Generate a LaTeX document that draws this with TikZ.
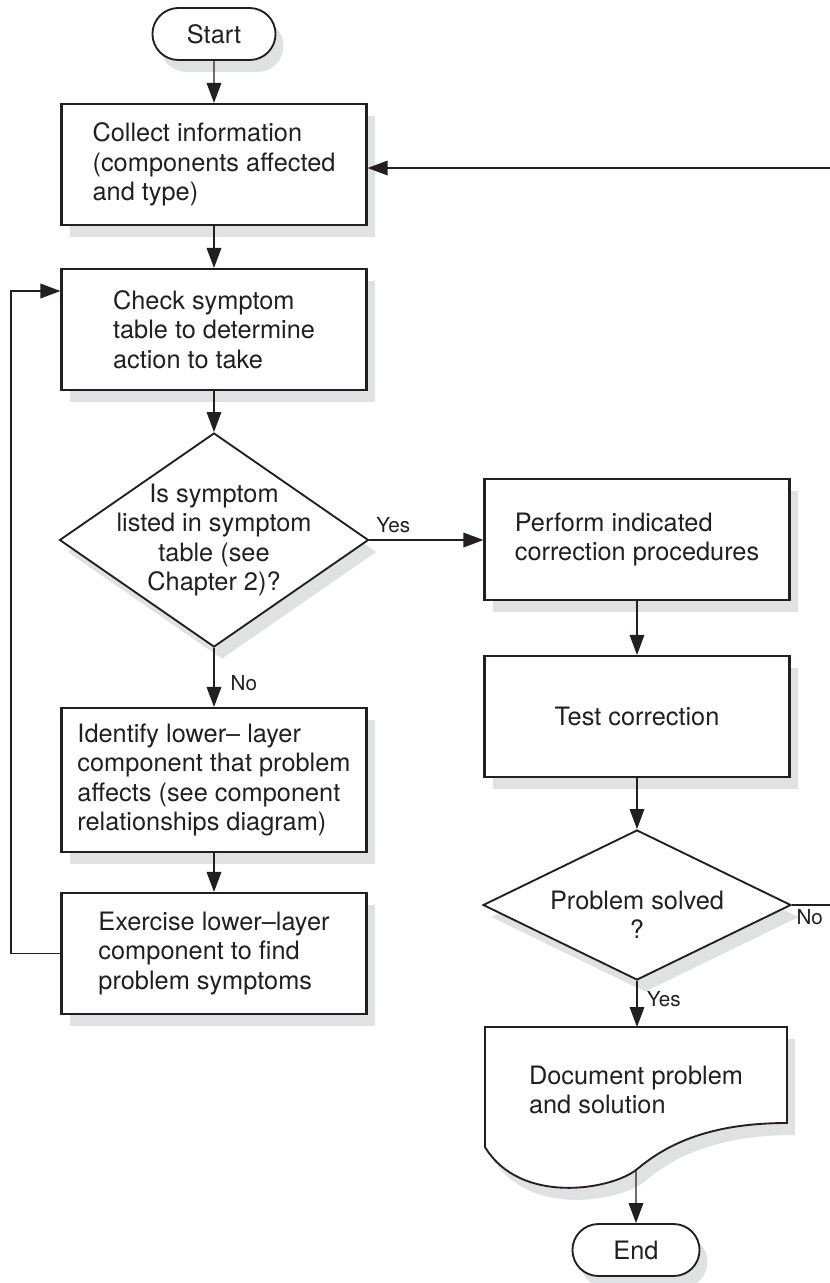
\documentclass[tikz,border=0pt]{standalone}
\usepackage{fontspec}
\setmainfont{TeX Gyre Heros}
\usetikzlibrary{arrows.meta,shapes.geometric,shapes.misc,shadows}
\definecolor{shadowgray}{RGB}{224,225,227}
\definecolor{inkgray}{RGB}{35,31,32}

\begin{document}
\begin{tikzpicture}[x=0.75pt,y=-0.75pt,
		>={Triangle[length=15pt,width=11pt]},
		every node/.style={text=inkgray},
		myshadow/.style={drop shadow={shadow xshift=6pt,shadow yshift=-9pt,fill=shadowgray,opacity=1}},
		procbox/.style={rectangle,draw=inkgray,line width=1.6pt,fill=white,myshadow,
			minimum width=228.75pt,minimum height=90.75pt,align=left,font=\fontsize{19}{22}\selectfont},
		termbox/.style={rounded rectangle,draw=inkgray,line width=1.4pt,fill=white,myshadow,
			minimum width=99pt,minimum height=39pt,font=\fontsize{19}{22}\selectfont},
		decbox/.style={diamond,draw=inkgray,line width=1.4pt,fill=white,myshadow,inner sep=0pt},
		dectext/.style={align=center,font=\fontsize{19}{22}\selectfont},
		flow/.style={->,draw=inkgray,line width=0.9pt},
		flowlabel/.style={font=\fontsize{15.5}{18}\selectfont,inner sep=3pt}]
		
		\useasboundingbox (0,0) rectangle (830,1283);
		
		% left column
		\node[termbox] (start) at (214,34) {Start};
		\node[procbox] (box1) at (214,164.5) {Collect information\\(components affected\\and type)};
		\node[procbox] (box2) at (214,329.5) {Check symptom\\table to determine\\action to take};
		\node[decbox,minimum width=231.75pt,minimum height=160.5pt,
			label={[dectext]center:Is symptom\\listed in symptom\\table (see\\Chapter 2)?}] (dec1) at (214,540) {};
		\node[procbox,minimum height=108pt] (box5) at (214,780) {Identify lower-- layer\\component that problem\\affects (see component\\relationships diagram)};
		\node[procbox] (box6) at (214,953.5) {Exercise lower--layer\\component to find\\problem symptoms};
		
		% right column
		\node[procbox] (box3) at (637,539.5) {Perform indicated\\correction procedures};
		\node[procbox] (box4) at (637,716.5) {Test correction};
		\node[decbox,minimum width=231pt,minimum height=112.5pt,
			label={[dectext,yshift=-7.5pt]center:Problem solved\\?}] (dec2) at (637,905) {};
		\draw[line width=1.4pt,draw=inkgray,fill=white,myshadow] (485,1027) -- (787,1027) -- (787,1123)
			.. controls (700,1123) and (660,1150) .. (636,1170)
			.. controls (610,1190) and (520,1205) .. (485,1147) -- cycle;
		\node[align=left,font=\fontsize{19}{22}\selectfont] (doc) at (636,1090) {Document problem\\and solution};
		\coordinate (doctop) at (637,1027);
		\coordinate (docwave) at (636,1170);
		\node[termbox,minimum width=102pt] (end) at (636,1250) {End};
		
		% loop ends
		\coordinate (fbtop) at (11,291);
		\coordinate (rtop) at (830,168);
		\coordinate (rbot) at (830,905);
		
		\draw[flow] (start) -- (box1);
		\draw[flow] (box1) -- (box2);
		\draw[flow] (box2) -- (dec1);
		\draw[flow] (dec1) -- node[flowlabel,right,pos=0.6,xshift=9pt] {No} (box5);
		\draw[flow] (box5) -- (box6);
		\draw[flow] (box6.west) -| (fbtop) -- (fbtop -| box2.west);
		\draw[flow] (dec1.east) -- node[flowlabel,above right,pos=0.02,yshift=2pt] {Yes} (dec1.east -| box3.west);
		\draw[flow] (box3) -- (box4);
		\draw[flow] (box4) -- (dec2);
		\draw[draw=inkgray,line width=0.9pt] (dec2.east) -- (rbot) node[flowlabel,below right,pos=0] {No};
		\draw[flow] (rtop) -- (rtop -| box1.east);
		\draw[flow] (dec2) -- node[flowlabel,right,pos=0.4,xshift=4pt] {Yes} (doctop);
		\draw[flow] (docwave) -- (end);
		\end{tikzpicture}
\end{document}
